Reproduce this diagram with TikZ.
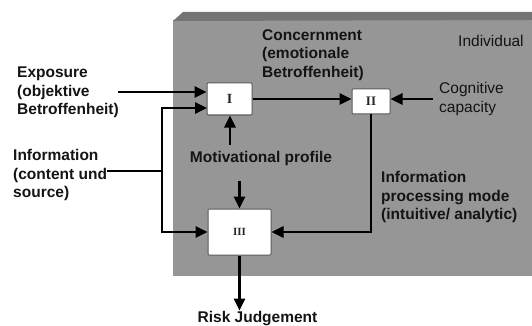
\documentclass[tikz,border=0pt]{standalone}
\usepackage{fontspec}
\setmainfont{Liberation Sans}
\newfontfamily\romfont{Liberation Serif}
\usetikzlibrary{arrows.meta}
\definecolor{face}{RGB}{150,150,150}
\definecolor{band}{RGB}{116,116,116}
\definecolor{ink}{RGB}{20,20,20}
\begin{document}
\begin{tikzpicture}[x=1pt,y=-1pt,
  lbl/.style={font=\fontsize{15.5}{18.5}\selectfont\bfseries, text=ink, align=left, inner sep=0pt},
  lblr/.style={font=\fontsize{15.5}{18.5}\selectfont, text=ink, align=left, inner sep=0pt},
  numbox/.style={draw=black!65, fill=white, line width=1pt, rounded corners=1pt, inner sep=0pt, text=black!85},
  arr/.style={draw=black, line width=2.6pt, -{Triangle[length=12pt,width=11pt]}},
  ln/.style={draw=black, line width=2.6pt}]
\useasboundingbox (0,0) rectangle (532,326);
% individual box
\fill[face] (173,20) rectangle (532,276);
\fill[band] (183,12) -- (532,12) -- (532,20) -- (173,21) -- cycle;
% boxes
\node[numbox, minimum width=45pt, minimum height=32pt, font=\romfont\bfseries\fontsize{14}{14}\selectfont] (I) at (229.5,99) {I};
\node[numbox, minimum width=38pt, minimum height=25pt, font=\romfont\bfseries\fontsize{13}{13}\selectfont] (II) at (371,101.5) {II};
\node[numbox, minimum width=63pt, minimum height=46pt, font=\romfont\bfseries\fontsize{11}{11}\selectfont] (III) at (239.5,232) {III};
% labels
\node[lbl, anchor=west] (expo) at (17,92.5) {Exposure\\(objektive\\Betroffenheit)};
\node[lbl, anchor=west] (info) at (13,175) {Information\\(content und\\source)};
\node[lbl, anchor=west] (conc) at (262,55) {Concernment\\(emotionale\\Betroffenheit)};
\node[lblr, anchor=west] (indiv) at (458,41) {Individual};
\node[lblr, anchor=west] (cog) at (439,99) {Cognitive\\capacity};
\node[lbl] (mot) at (261,158) {Motivational profile};
\node[lbl, anchor=west] (ipm) at (381,197) {Information\\processing mode\\(intuitive/ analytic)};
\node[lbl, inner sep=1pt] (risk) at (257.5,319) {Risk Judgement};
% joints
\coordinate (a1) at (118,92);
\coordinate (j1) at (162,171);
\coordinate (inI) at (207,108);
\coordinate (m1) at (230,145);
\coordinate (m2) at (239.5,181);
\coordinate (c1) at (433,99);
% connectors
\draw[arr] (a1) -- (a1 -| I.west);
\draw[ln] (info.east |- j1) -- (j1);
\draw[arr] (j1) |- (inI);
\draw[arr] (j1) |- (III.west);
\draw[arr] (m1) -- (m1 |- I.south);
\draw[arr] (m2) -- (III.north);
\draw[arr] (I.east) -- (I.east -| II.west);
\draw[arr] (c1) -- (c1 -| II.east);
\draw[arr] (II.south) |- (III.east);
\draw[arr] (III.south) -- (risk.north -| III.south);
\end{tikzpicture}
\end{document}
